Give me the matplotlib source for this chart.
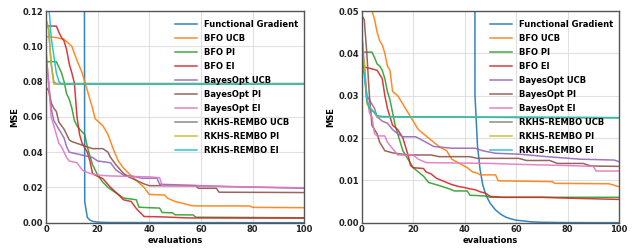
import matplotlib
matplotlib.use("Agg")
import matplotlib.pyplot as plt

plt.rcParams['font.family'] = ['DejaVu Sans']
plt.rcParams['font.weight'] = 'bold'

labels = ["Functional Gradient", "BFO UCB", "BFO PI", "BFO EI", "BayesOpt UCB",
          "BayesOpt PI", "BayesOpt EI", "RKHS-REMBO UCB", "RKHS-REMBO PI", "RKHS-REMBO EI"]
colors = ["#1f77b4", "#ff7f0e", "#2ca02c", "#d62728", "#9467bd",
          "#8c564b", "#e377c2", "#7f7f7f", "#bcbd22", "#17becf"]

# ---------------- left panel ----------------
L_fg_x = [0, 14, 15, 16, 17, 18, 20, 25, 100]
L_fg_y = [1.0, 1.0, 0.012, 0.003, 0.0015, 0.0008, 0.0003, 0.0001, 0.0]

L_bfo_ucb_x = [0, 4, 7, 10, 12, 14, 15, 16, 18, 19, 22, 24, 26, 28, 30, 32, 35, 38, 40, 46, 47, 50, 53, 56, 58, 79, 80, 100]
L_bfo_ucb_y = [0.1055, 0.105, 0.104, 0.100, 0.092, 0.085, 0.080, 0.075, 0.065, 0.059, 0.055, 0.050, 0.042, 0.035, 0.031, 0.028, 0.024, 0.020, 0.016, 0.0157, 0.014, 0.012, 0.011, 0.0098, 0.0095, 0.0095, 0.0087, 0.0085]

L_bfo_pi_x = [0, 4, 6, 7, 8, 9, 10, 11, 12, 13, 15, 16, 17, 18, 19, 20, 22, 24, 27, 30, 35, 36, 40, 44, 45, 49, 50, 57, 58, 100]
L_bfo_pi_y = [0.0913, 0.0913, 0.085, 0.080, 0.073, 0.070, 0.065, 0.058, 0.055, 0.053, 0.050, 0.043, 0.038, 0.033, 0.030, 0.027, 0.023, 0.020, 0.017, 0.014, 0.013, 0.0088, 0.0085, 0.0083, 0.0058, 0.0056, 0.0045, 0.0044, 0.0031, 0.0028]

L_bfo_ei_x = [0, 4, 5, 6, 7, 8, 9, 10, 11, 12, 13, 14, 16, 17, 18, 19, 22, 25, 28, 30, 33, 35, 37, 38, 45, 50, 55, 100]
L_bfo_ei_y = [0.1115, 0.1115, 0.108, 0.105, 0.103, 0.098, 0.090, 0.085, 0.079, 0.060, 0.050, 0.045, 0.040, 0.035, 0.028, 0.027, 0.025, 0.020, 0.016, 0.013, 0.012, 0.008, 0.005, 0.0035, 0.0033, 0.003, 0.0027, 0.0026]

L_bo_ucb_x = [0, 1, 2, 3, 5, 7, 8, 9, 12, 15, 18, 20, 25, 27, 30, 35, 37, 43, 44, 60, 70, 100]
L_bo_ucb_y = [0.095, 0.080, 0.065, 0.058, 0.053, 0.048, 0.043, 0.040, 0.039, 0.038, 0.037, 0.035, 0.034, 0.030, 0.027, 0.026, 0.0252, 0.0252, 0.0218, 0.021, 0.0205, 0.0195]

L_bo_pi_x = [0, 1, 2, 3, 4, 5, 6, 7, 8, 9, 10, 12, 14, 16, 18, 22, 24, 25, 27, 30, 32, 35, 38, 40, 58, 59, 66, 67, 100]
L_bo_pi_y = [0.0767, 0.075, 0.068, 0.065, 0.063, 0.057, 0.055, 0.053, 0.050, 0.047, 0.046, 0.045, 0.044, 0.043, 0.042, 0.042, 0.040, 0.037, 0.033, 0.028, 0.026, 0.024, 0.022, 0.021, 0.021, 0.0195, 0.0195, 0.0173, 0.0171]

L_bo_ei_x = [0, 1, 2, 3, 4, 5, 6, 7, 8, 9, 12, 13, 14, 15, 17, 20, 25, 40, 44, 45, 70, 100]
L_bo_ei_y = [0.098, 0.080, 0.060, 0.055, 0.050, 0.045, 0.043, 0.040, 0.037, 0.035, 0.034, 0.032, 0.030, 0.029, 0.028, 0.027, 0.0265, 0.026, 0.0255, 0.021, 0.0205, 0.0198]

L_rk_ucb_x = [0, 1, 2, 3, 4, 100]
L_rk_ucb_y = [0.115, 0.110, 0.090, 0.080, 0.0786, 0.0786]

L_rk_pi_x = [0, 1, 2, 3, 4, 100]
L_rk_pi_y = [0.115, 0.110, 0.090, 0.0786, 0.0786, 0.0786]

L_rk_ei_x = [0, 1, 2, 3, 4, 5, 6, 100]
L_rk_ei_y = [0.130, 0.125, 0.105, 0.095, 0.085, 0.080, 0.0786, 0.0786]

# ---------------- right panel ----------------
R_fg_x = [0, 43, 44, 45, 46, 47, 48, 49, 50, 52, 54, 56, 58, 60, 63, 66, 70, 80, 100]
R_fg_y = [1.0, 1.0, 0.03, 0.018, 0.0125, 0.009, 0.007, 0.0056, 0.0045, 0.003, 0.002, 0.0013, 0.0009, 0.0006, 0.0004, 0.0002, 0.0001, 0.00003, 0.0]

R_bfo_ucb_x = [0, 1, 4, 5, 6, 7, 8, 9, 10, 11, 12, 14, 16, 18, 20, 22, 24, 26, 28, 30, 33, 35, 38, 41, 43, 45, 46, 52, 53, 74, 75, 96, 100]
R_bfo_ucb_y = [0.052, 0.050, 0.050, 0.048, 0.045, 0.043, 0.042, 0.040, 0.037, 0.036, 0.031, 0.030, 0.028, 0.026, 0.024, 0.022, 0.021, 0.020, 0.019, 0.018, 0.017, 0.015, 0.014, 0.013, 0.012, 0.0117, 0.0113, 0.0113, 0.0099, 0.0097, 0.0093, 0.0092, 0.0085]

R_bfo_pi_x = [0, 4, 5, 6, 7, 8, 9, 10, 11, 12, 13, 14, 15, 16, 17, 18, 20, 22, 24, 26, 30, 34, 36, 41, 42, 48, 50, 100]
R_bfo_pi_y = [0.0403, 0.0403, 0.039, 0.0375, 0.037, 0.036, 0.034, 0.031, 0.029, 0.026, 0.023, 0.021, 0.019, 0.017, 0.016, 0.015, 0.013, 0.012, 0.011, 0.0095, 0.0088, 0.008, 0.0075, 0.0075, 0.0065, 0.0063, 0.006, 0.006]

R_bfo_ei_x = [0, 3, 6, 7, 8, 9, 10, 11, 12, 14, 16, 17, 18, 19, 20, 24, 25, 27, 29, 31, 33, 35, 38, 40, 42, 44, 46, 48, 50, 55, 70, 80, 100]
R_bfo_ei_y = [0.0369, 0.0365, 0.036, 0.035, 0.034, 0.030, 0.027, 0.025, 0.023, 0.022, 0.020, 0.018, 0.016, 0.0135, 0.013, 0.0128, 0.012, 0.0115, 0.0105, 0.010, 0.0095, 0.009, 0.0085, 0.0083, 0.008, 0.0078, 0.0073, 0.007, 0.0062, 0.006, 0.006, 0.0058, 0.0055]

R_bo_ucb_x = [0, 1, 2, 3, 4, 5, 6, 8, 10, 12, 14, 16, 21, 25, 28, 35, 44, 47, 52, 61, 72, 85, 98, 100]
R_bo_ucb_y = [0.045, 0.036, 0.030, 0.029, 0.028, 0.027, 0.025, 0.024, 0.0235, 0.022, 0.021, 0.0203, 0.0203, 0.019, 0.018, 0.0176, 0.0176, 0.017, 0.0164, 0.0162, 0.0156, 0.015, 0.0148, 0.0144]

R_bo_pi_x = [0, 1, 2, 3, 4, 5, 6, 7, 8, 9, 12, 18, 27, 30, 42, 45, 61, 64, 73, 76, 86, 89, 100]
R_bo_pi_y = [0.049, 0.048, 0.040, 0.030, 0.023, 0.022, 0.021, 0.019, 0.018, 0.017, 0.0165, 0.016, 0.016, 0.0156, 0.0156, 0.0152, 0.0152, 0.0147, 0.0147, 0.014, 0.014, 0.0134, 0.0133]

R_bo_ei_x = [0, 1, 2, 3, 4, 5, 6, 9, 10, 12, 14, 20, 22, 25, 50, 60, 80, 90, 91, 100]
R_bo_ei_y = [0.045, 0.038, 0.030, 0.026, 0.025, 0.021, 0.0205, 0.0205, 0.019, 0.0175, 0.016, 0.016, 0.015, 0.0142, 0.014, 0.0138, 0.0135, 0.0133, 0.0122, 0.0122]

R_rk_ucb_x = [0, 1, 2, 3, 5, 6, 100]
R_rk_ucb_y = [0.038, 0.036, 0.029, 0.027, 0.026, 0.025, 0.0248]

R_rk_pi_x = [0, 1, 2, 3, 5, 6, 100]
R_rk_pi_y = [0.0385, 0.0385, 0.028, 0.0275, 0.026, 0.025, 0.0248]

R_rk_ei_x = [0, 1, 2, 3, 5, 6, 8, 20, 100]
R_rk_ei_y = [0.0375, 0.035, 0.029, 0.027, 0.026, 0.0253, 0.0251, 0.025, 0.0248]

left_series = [(L_fg_x, L_fg_y), (L_bfo_ucb_x, L_bfo_ucb_y), (L_bfo_pi_x, L_bfo_pi_y),
               (L_bfo_ei_x, L_bfo_ei_y), (L_bo_ucb_x, L_bo_ucb_y), (L_bo_pi_x, L_bo_pi_y),
               (L_bo_ei_x, L_bo_ei_y), (L_rk_ucb_x, L_rk_ucb_y), (L_rk_pi_x, L_rk_pi_y),
               (L_rk_ei_x, L_rk_ei_y)]
right_series = [(R_fg_x, R_fg_y), (R_bfo_ucb_x, R_bfo_ucb_y), (R_bfo_pi_x, R_bfo_pi_y),
                (R_bfo_ei_x, R_bfo_ei_y), (R_bo_ucb_x, R_bo_ucb_y), (R_bo_pi_x, R_bo_pi_y),
                (R_bo_ei_x, R_bo_ei_y), (R_rk_ucb_x, R_rk_ucb_y), (R_rk_pi_x, R_rk_pi_y),
                (R_rk_ei_x, R_rk_ei_y)]

left_yticks = [0.00, 0.02, 0.04, 0.06, 0.08, 0.10, 0.12]
right_yticks = [0.00, 0.01, 0.02, 0.03, 0.04, 0.05]
xticks = [0, 20, 40, 60, 80, 100]

fig = plt.figure(figsize=(6.39, 2.49), dpi=100)
ax1 = fig.add_axes([0.072, 0.1056, 0.404, 0.850])
ax2 = fig.add_axes([0.566, 0.1056, 0.403, 0.850])

FS = 6
for ax, series, yt, ymax in [(ax1, left_series, left_yticks, 0.12),
                             (ax2, right_series, right_yticks, 0.05)]:
    for (x, y), lab, c in zip(series, labels, colors):
        ax.plot(x, y, color=c, lw=1.1, label=lab, alpha=0.9)
    ax.set_xlim(0, 100)
    ax.set_ylim(0, ymax)
    ax.set_xticks(xticks)
    ax.set_yticks(yt)
    ax.set_yticklabels([f"{v:.2f}" for v in yt])
    ax.grid(True, color="#e0e0e0", lw=0.8)
    ax.set_axisbelow(True)
    for s in ax.spines.values():
        s.set_color("#555555")
        s.set_linewidth(1.0)
    ax.tick_params(length=0, labelsize=FS, pad=2, colors="#222222")
    for t in ax.get_xticklabels() + ax.get_yticklabels():
        t.set_fontweight('bold')
    ax.set_xlabel("evaluations", fontsize=FS, fontweight='bold', labelpad=1)
    ax.set_ylabel("MSE", fontsize=FS, fontweight='bold', labelpad=2)
    leg = ax.legend(loc='upper right', bbox_to_anchor=(1.0, 0.985), frameon=False,
                    prop={'size': FS, 'weight': 'bold'}, handlelength=2.6,
                    labelspacing=0.6, handletextpad=0.9, borderaxespad=0.3)

fig.savefig("out.png", dpi=100)
